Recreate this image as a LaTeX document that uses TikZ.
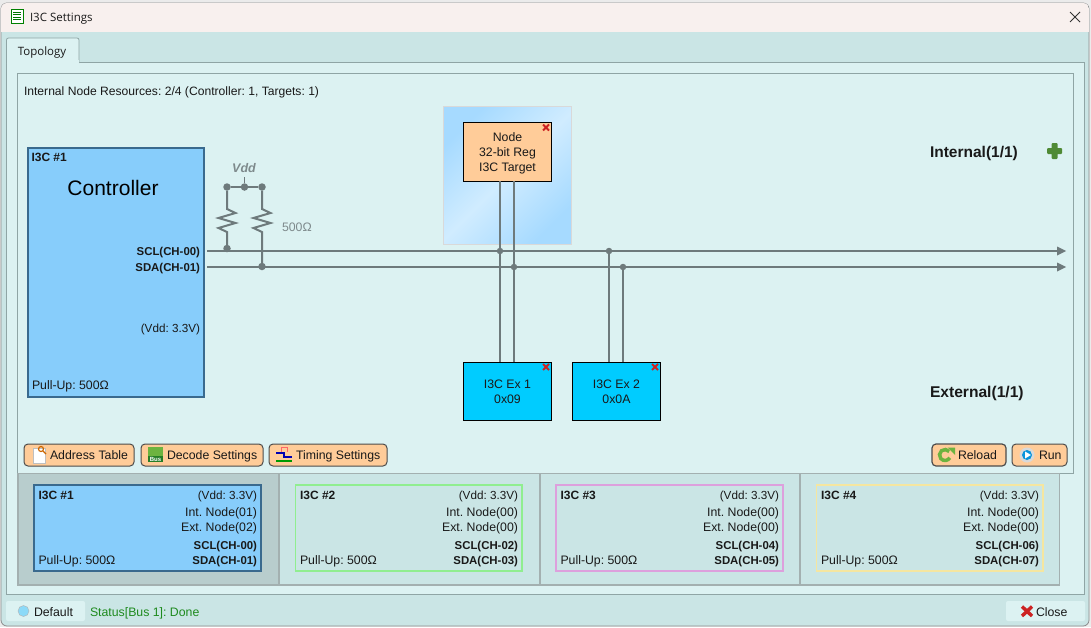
\documentclass[tikz,border=0pt]{standalone}
\usepackage{fontspec}
\setmainfont{Liberation Sans}
\newfontfamily\uifont{Open Sans}
\frenchspacing
\definecolor{winbg}{HTML}{CAE5E5}
\definecolor{panelbg}{HTML}{DCF2F2}
\definecolor{titlebg}{HTML}{F8F0EE}
\definecolor{framecol}{HTML}{8FA5A5}
\definecolor{ctrlblue}{HTML}{87CDFB}
\definecolor{ctrledge}{HTML}{3A6A8E}
\definecolor{orangebox}{HTML}{FFCC99}
\definecolor{cyanbox}{HTML}{00CCFF}
\definecolor{wire}{HTML}{6E7A7C}
\definecolor{greytext}{HTML}{7E8A8C}
\definecolor{selcell}{HTML}{B8CDCD}
\definecolor{celledge}{HTML}{A3B0B0}
\definecolor{redx}{HTML}{CC2222}
\definecolor{statusgreen}{HTML}{1E8A1E}
\definecolor{gradedge}{HTML}{A6DAFF}
\definecolor{gradmid}{HTML}{D0ECFF}
\definecolor{cella}{HTML}{3A6A8E}
\definecolor{cellb}{HTML}{90EE90}
\definecolor{cellc}{HTML}{DDA0DD}
\definecolor{celld}{HTML}{F5E6A0}
\definecolor{plusgreen}{HTML}{4F8A35}
\definecolor{reloadgreen}{HTML}{6DB33F}
\tikzset{
  x=1pt,y=-1pt,
  txt/.style={inner sep=0pt,outer sep=0pt,font=\fontsize{12.3}{14}\selectfont,text=black!90},
  vddtxt/.style={txt,font=\fontsize{11.7}{14}\selectfont},
  boldtxt/.style={txt,font=\fontsize{12}{14}\selectfont\bfseries},
  sigtxt/.style={txt,font=\fontsize{11.4}{14}\selectfont\bfseries},
  blockbox/.style={draw=black,line width=1pt,anchor=north west,inner sep=0pt,outer sep=0pt,align=center,text=black!90,font=\fontsize{12.3}{15}\selectfont},
  btn/.style={draw=black!70,line width=1pt,rounded corners=4pt,fill=orangebox,anchor=north west,minimum height=22pt,inner sep=0pt,outer sep=0pt},
  flat/.style={fill=panelbg,rounded corners=2pt,anchor=north west,minimum height=20pt,inner sep=0pt,outer sep=0pt},
  buswire/.style={draw=wire,line width=2pt},
  dotmark/.style={circle,fill=wire,inner sep=0pt,minimum size=7.5pt,outer sep=0pt},
  smalldot/.style={circle,fill=wire,inner sep=0pt,minimum size=6.5pt,outer sep=0pt},
  cross/.style={draw=redx,line width=2pt},
  tip/.style={fill=wire,draw=none},
}
\newcommand{\bigx}[2]{\draw[cross] (#1-3,#2-3) -- (#1+3,#2+3) (#1-3,#2+3) -- (#1+3,#2-3);}
\begin{document}
\begin{tikzpicture}
\useasboundingbox (0,0) rectangle (1091,627);
% window
\fill[white!92!black] (0,0) rectangle (1091,627);
\draw[draw=black!45,fill=winbg,rounded corners=6pt,line width=.8pt] (1,3) rectangle (1089,626);
\begin{scope}
\clip[rounded corners=6pt] (1,3) rectangle (1089,626);
\fill[titlebg] (1,3) rectangle (1089,32);
\end{scope}
\node[txt,font=\uifont\fontsize{11.5}{14}\selectfont,anchor=base west] (title) at (30,21) {I3C Settings};
% title icon
\draw[draw=green!50!black,fill=white,line width=.8pt] (11,9) rectangle (23,23);
\foreach \yy in {12,14.5,17,19.5}{\draw[draw=green!45!black,line width=1pt] (13,\yy) -- (21,\yy);}
\draw[line width=.8pt,black!80] (1070,12) -- (1080,22) (1070,22) -- (1080,12);
% panels
\draw[draw=framecol,fill=panelbg,line width=.8pt] (6,62.5) rectangle (1084,594);
\draw[draw=framecol,fill=panelbg,line width=.8pt,rounded corners=2pt] (6.5,63) -- (6.5,38) -- (79,38) -- (79,63);
\fill[panelbg] (7,60) rectangle (78.5,64);
\node[txt,font=\uifont\fontsize{11.5}{14}\selectfont,anchor=base] (tabname) at (42,55) {Topology};
\draw[draw=framecol,line width=.8pt] (17,73.5) rectangle (1073,473);
\node[txt,font=\fontsize{12.12}{14}\selectfont,anchor=base west] (res) at (24,95) {Internal Node Resources: 2/4 (Controller: 1, Targets: 1)};
% gradient backdrop
\shade[top color=gradedge,bottom color=gradedge,middle color=gradmid,shading angle=45] (443.5,106.7) rectangle (571.5,244.5);
\draw[draw=black!15,line width=1pt] (443.5,106.7) rectangle (571.5,244.5);
% blocks
\node[blockbox,draw=ctrledge,fill=ctrlblue,line width=1.6pt,minimum width=176pt,minimum height=249pt] (ctrl) at (28,148) {};
\node[boldtxt,anchor=base west] (ctrlid) at (31.5,161.5) {I3C \#1};
\node[txt,font=\fontsize{21}{24}\selectfont,text=black,anchor=base] (ctrlname) at (113,195) {Controller};
\node[sigtxt,anchor=base east] (sclc) at (200,255.5) {SCL(CH-00)};
\node[sigtxt,anchor=base east] (sdac) at (200,271) {SDA(CH-01)};
\node[vddtxt,anchor=base east] (vddc) at (200,332) {(Vdd: 3.3V)};
\node[txt,anchor=base west] (puc) at (32,389) {Pull-Up: 500Ω};
\node[blockbox,fill=orangebox,minimum width=88pt,minimum height=59pt] (tgt) at (463.5,122) {\rule{0pt}{13pt}Node\\32-bit Reg\\I3C Target};
\node[blockbox,fill=cyanbox,minimum width=88pt,minimum height=58pt] (ex1) at (463.5,362) {\rule{0pt}{10.6pt}I3C Ex 1\\0x09};
\node[blockbox,fill=cyanbox,minimum width=88pt,minimum height=58pt] (ex2) at (572.5,362) {\rule{0pt}{10.6pt}I3C Ex 2\\0x0A};
\bigx{546}{127.5}
\bigx{546}{367}
\bigx{655}{367}
% bus
\coordinate (sclL) at (207,251);
\coordinate (sdaL) at (207,267);
\coordinate (sclR) at (1066,251);
\coordinate (sdaR) at (1066,267);
\draw[buswire] (sclL) -- (1058,251);
\draw[buswire] (sdaL) -- (1058,267);
\fill[tip] (sclR) -- (1057,246.5) -- (1057,255.5) -- cycle;
\fill[tip] (sdaR) -- (1057,262.5) -- (1057,271.5) -- cycle;
% target wires
\node[smalldot] (d1) at (500,251) {};
\node[smalldot] (d2) at (514,267) {};
\node[smalldot] (d3) at (609,251) {};
\node[smalldot] (d4) at (623,267) {};
\draw[buswire] (tgt.south -| d1) -- (ex1.north -| d1);
\draw[buswire] (tgt.south -| d2) -- (ex1.north -| d2);
\draw[buswire] (d3) -- (ex2.north -| d3);
\draw[buswire] (d4) -- (ex2.north -| d4);
% pull ups
\node[dotmark] (vl) at (227,187) {};
\node[dotmark] (vm) at (244.5,187) {};
\node[dotmark] (vr) at (262,187) {};
\node[dotmark] (bl) at (227,248.5) {};
\node[dotmark] (br) at (262,266.5) {};
\node[txt,font=\fontsize{12.5}{14}\selectfont\bfseries\itshape,text=greytext,anchor=base] (vddl) at (244,172) {Vdd};
\draw[draw=wire,line width=1.5pt] (244.5,177) -- (vm);
\draw[buswire] (vl) -- (vr);
\foreach \xx/\aa/\bb in {227/vl/bl,262/vr/br}{
 \draw[buswire,line join=miter] (\aa) -- (\xx,209) -- (\xx+8.5,213) -- (\xx-8.5,218) -- (\xx+8.5,223) -- (\xx-8.5,228) -- (\xx,232) -- (\bb);
}
\node[txt,text=greytext,anchor=base west] (ohm) at (282,231) {500Ω};
% zone labels
\node[txt,font=\fontsize{15.5}{16}\selectfont\bfseries,anchor=base west] (intl) at (930,157) {Internal(1/1)};
\node[txt,font=\fontsize{15.6}{16}\selectfont\bfseries,anchor=base west] (extl) at (930,397) {External(1/1)};
\fill[plusgreen,rounded corners=1pt] (1051.5,143) rectangle (1057.5,159) (1047,148) rectangle (1062,154);
% buttons
\node[btn,minimum width=110pt] (b1) at (24,444) {};
\node[btn,minimum width=122pt] (b2) at (141,444) {};
\node[btn,minimum width=118pt] (b3) at (269,444) {};
\node[btn,minimum width=74pt,line width=1.2pt] (b4) at (932,444) {};
\node[btn,minimum width=55pt] (b5) at (1012,444) {};
\node[txt,anchor=base west] (t1) at (50,459) {Address Table};
\node[txt,anchor=base west] (t2) at (167,459) {Decode Settings};
\node[txt,anchor=base west] (t3) at (296,459) {Timing Settings};
\node[txt,anchor=base west] (t4) at (958,459.5) {Reload};
\node[txt,anchor=base west] (t5) at (1039,459.5) {Run};
% button icons
\draw[draw=black!25,fill=white] (33,448) rectangle (45,463);
\draw[draw=orange!80!black,line width=1.2pt] (41,449) circle (2.5pt) (43,451) -- (46,454);
\fill[reloadgreen] (148,447) rectangle (163,462);
\fill[green!40!black!85] (148,456) rectangle (163,462);
\node[txt,font=\fontsize{6}{6}\selectfont\bfseries,text=white,anchor=base] (busicon) at (155.5,461) {Bus};
\draw[draw=blue!70!black,line width=1.5pt] (276,453) -- (284,453) -- (284,457) -- (292,457);
\draw[draw=green!60!black,line width=1.5pt] (276,461) -- (292,461);
\draw[draw=red!60,line width=.8pt] (281,452) -- (281,447) -- (287,447) -- (287,452);
\draw[draw=reloadgreen,line width=3.5pt] (945,455) ++(40:5.5pt) arc (40:330:5.5pt);
\fill[reloadgreen] (947.5,447.5) -- (955,447.5) -- (955,455) -- cycle;
\fill[black!15] (1027,455) circle (7.5pt);
\fill[cyan!80!blue] (1027,455) circle (5pt);
\fill[white] (1025,451.5) -- (1031,455) -- (1025,458.5) -- cycle;
% bottom cells
\fill[winbg] (18,473.5) rectangle (1059.5,585);
\fill[selcell] (18,473.5) rectangle (279,585);
\draw[draw=celledge,line width=1.2pt] (18,473.5) rectangle (1059.5,585);
\draw[draw=celledge,line width=1.2pt] (540,473.5) -- (540,585) (800,473.5) -- (800,585);
\draw[draw=celledge,line width=1.6pt] (18,473.5) rectangle (279,585);
\foreach \n/\xl/\xr/\col/\inn/\exn/\scn/\sdn in {
 1/34/261/cella/01/02/00/01,
 2/295.5/522/cellb/00/00/02/03,
 3/556/783/cellc/00/00/04/05,
 4/816.5/1043/celld/00/00/06/07}{
  \ifnum\n=1
   \fill[ctrlblue] (\xl,485) rectangle (\xr,571);
  \fi
  \draw[draw=\col,line width=1.6pt] (\xl,485) rectangle (\xr,571);
  \node[boldtxt,anchor=base west] (id\n) at (\xl+4.5,499) {I3C \#\n};
  \node[vddtxt,anchor=base east] (vd\n) at (\xr-4,499) {(Vdd: 3.3V)};
  \node[txt,anchor=base east] (in\n) at (\xr-4,516) {Int. Node(\inn)};
  \node[txt,anchor=base east] (en\n) at (\xr-4,531) {Ext. Node(\exn)};
  \node[sigtxt,anchor=base east] (sc\n) at (\xr-4,549) {SCL(CH-\scn)};
  \node[sigtxt,anchor=base east] (sd\n) at (\xr-4,564) {SDA(CH-\sdn)};
  \node[txt,anchor=base west] (pu\n) at (\xl+4.5,564) {Pull-Up: 500Ω};
}
% status
\node[flat,minimum width=79pt] (def) at (6,601) {};
\fill[cyan!45] (23.5,611) circle (5.5pt);
\draw[draw=black!30] (23.5,611) circle (5.5pt);
\node[txt,anchor=base west] (deft) at (34,616) {Default};
\node[txt,text=statusgreen,anchor=base west] (stat) at (90,616) {Status[Bus 1]: Done};
\node[flat,minimum width=79pt] (cl) at (1006,601) {};
\draw[draw=redx,line width=3.4pt] (1022,606.5) -- (1032,616) (1022,616) -- (1032,606.5);
\node[txt,anchor=base west] (clt) at (1036,616) {Close};
\end{tikzpicture}
\end{document}
